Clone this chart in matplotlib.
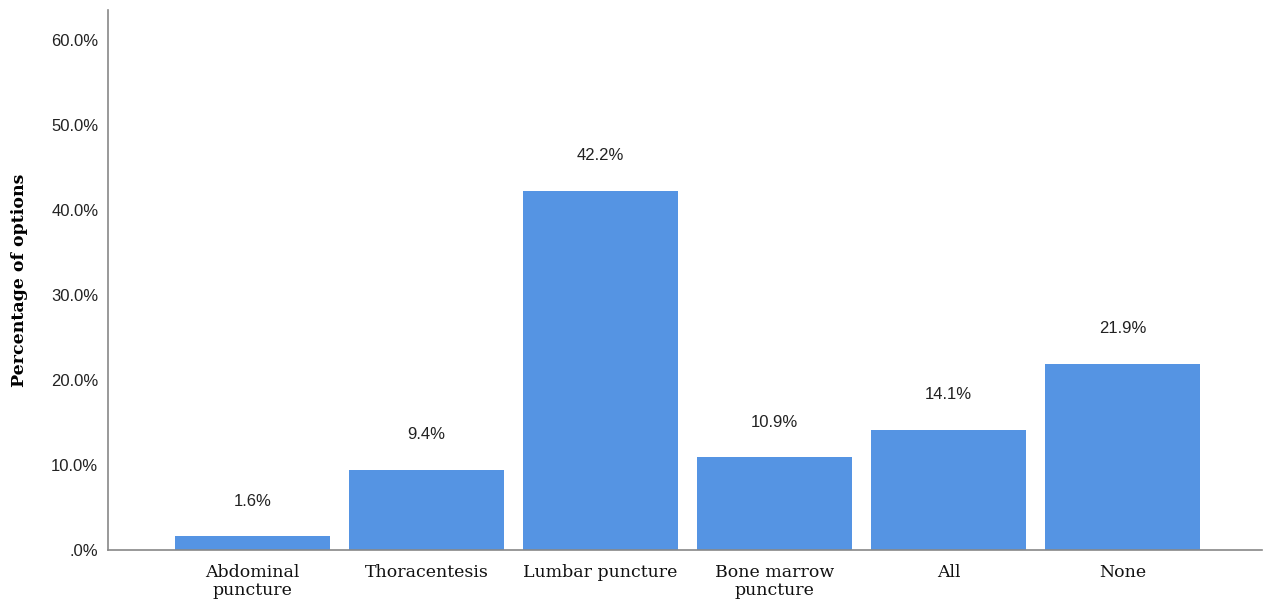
import numpy as np
import matplotlib.pyplot as plt
from matplotlib.ticker import FuncFormatter

categories = ['Abdominal\npuncture', 'Thoracentesis', 'Lumbar puncture',
              'Bone marrow\npuncture', 'All', 'None']
percentages = [1.6, 9.4, 42.2, 10.9, 14.1, 21.9]
yticks = [0, 10, 20, 30, 40, 50, 60]

fig = plt.figure(figsize=(12.66, 6.07), dpi=100)
ax = fig.add_axes([108 / 1266, 57 / 607, (1262 - 108) / 1266, (597 - 57) / 607])

x = np.arange(len(categories))
ax.bar(x, percentages, width=0.89, color='#5594e3', zorder=2)

for xi, v in zip(x, percentages):
    ax.annotate(f'{v:.1f}%', (xi, v), xytext=(0, 20), textcoords='offset points',
                ha='center', va='bottom', fontsize=12, family='Liberation Sans',
                color='#222222')

ax.set_xlim(-0.83, 5.8)
ax.set_ylim(0, 63.5)
ax.set_yticks(yticks)


def pct(v, pos):
    s = f'{v:.1f}%'
    return '.0%' if v == 0 else s


ax.yaxis.set_major_formatter(FuncFormatter(pct))
ax.set_xticks(x)
ax.set_xticklabels(categories, family='DejaVu Serif', fontsize=12.5,
                   linespacing=1.12, color='#111111')
for lab in ax.get_yticklabels():
    lab.set_family('Liberation Sans')
    lab.set_fontsize(12)
    lab.set_color('#222222')

ax.tick_params(axis='both', length=0)
ax.tick_params(axis='y', pad=7)
ax.tick_params(axis='x', pad=10)
for side in ['top', 'right']:
    ax.spines[side].set_visible(False)
for side in ['left', 'bottom']:
    ax.spines[side].set_color('#888888')
    ax.spines[side].set_linewidth(1.2)

ax.set_ylabel('Percentage of options', family='DejaVu Serif', fontsize=12.5,
              fontweight='bold')
ax.yaxis.set_label_coords(-80 / 1154, 0.5)

fig.savefig('out.png', dpi=100)
